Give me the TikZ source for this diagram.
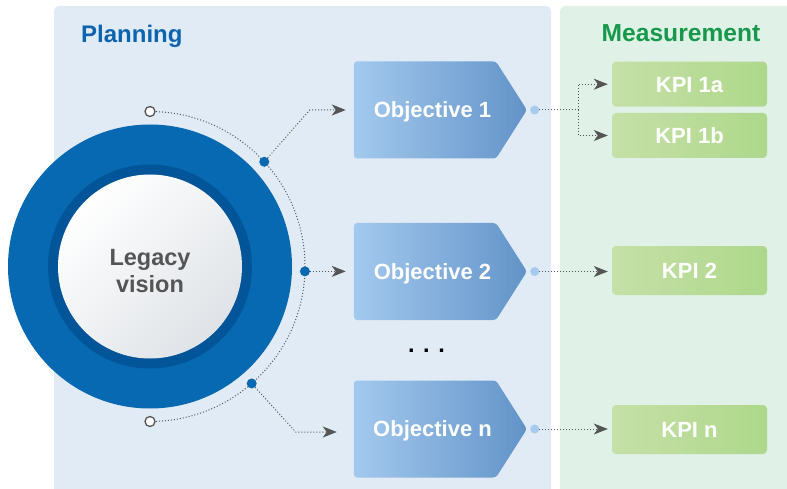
\documentclass[tikz,border=0pt]{standalone}
\usepackage{fontspec}
\setmainfont{Liberation Sans}
\usetikzlibrary{arrows.meta,shapes.symbols,calc}
\definecolor{panelblue}{HTML}{E1EBF5}
\definecolor{panelgreen}{HTML}{E0F1E7}
\definecolor{titleblue}{HTML}{0B64AE}
\definecolor{titlegreen}{HTML}{16994A}
\definecolor{ringblue}{HTML}{0669B1}
\definecolor{ringdark}{HTML}{03559A}
\definecolor{innergray}{HTML}{DFE3E7}
\definecolor{textgray}{HTML}{555555}
\definecolor{arrowgray}{HTML}{555555}
\definecolor{objL}{HTML}{A3C9EE}
\definecolor{objR}{HTML}{6293C8}
\definecolor{kpiL}{HTML}{C6E0A7}
\definecolor{kpiR}{HTML}{ADD88B}
\definecolor{lightdotc}{HTML}{A5CBEE}
\newcommand\titlefont{\fontsize{24}{28}\selectfont\bfseries}
\newcommand\measfont{\fontsize{24.6}{28}\selectfont\bfseries}
\newcommand\visionfont{\fontsize{23.5}{26.5}\selectfont\bfseries}
\newcommand\boxfont{\fontsize{22}{26}\selectfont\bfseries}
\begin{document}
\begin{tikzpicture}[x=1pt,y=-1pt,
  dotline/.style={draw=arrowgray, line width=1pt, dash pattern=on 1pt off 2pt},
  conn/.style={dotline, -{Stealth[length=14pt,width=11pt,inset=4pt]}},
  opendot/.style={circle, draw=arrowgray, fill=white, line width=1.3pt, minimum size=10pt, inner sep=0pt},
  bluedot/.style={circle, fill=ringblue, minimum size=10pt, inner sep=0pt},
  lightdot/.style={circle, fill=lightdotc, minimum size=9pt, inner sep=0pt},
  objtext/.style={font=\boxfont, text=white, inner sep=0pt, text height=15.75pt, text depth=0pt, xshift=7.5pt},
  objective/.style={signal, signal to=east, signal pointer angle=115,
     minimum width=173pt, minimum height=97pt, inner sep=0pt,
     left color=objL, right color=objR, rounded corners=3pt,
     label={[objtext]center:#1}},
  kpi/.style={rectangle, rounded corners=4pt, minimum width=155pt, minimum height=#1,
     inner sep=0pt, left color=kpiL, right color=kpiR, text=white, font=\boxfont,
     text height=15.75pt, text depth=0pt},
  kpi/.default=45pt
]
\useasboundingbox (0,0) rectangle (787,489);
\fill[white] (0,0) rectangle (787,489);
% panels
\fill[panelblue] (54,489) [rounded corners=5pt] -- (54,6) -- (551,6) [sharp corners] -- (551,489) -- cycle;
\fill[panelgreen] (560,489) [rounded corners=5pt] -- (560,6) [sharp corners] -- (787,6) -- (787,489) -- cycle;
\node[font=\titlefont, text=titleblue, anchor=base west, inner sep=0pt] (planning) at (81,42.5) {Planning};
\node[font=\measfont, text=titlegreen, anchor=base west, inner sep=0pt] (measurement) at (601.5,41.5) {Measurement};
% circle
\coordinate (c) at (150,266.5);
\node[circle, fill=ringblue, minimum size=284pt, inner sep=0pt] (outer) at (c) {};
\node[circle, fill=ringdark, minimum size=204pt, inner sep=0pt] (darkring) at (c) {};
\node[circle, minimum size=184pt, inner sep=0pt, top color=white, bottom color=innergray, shading angle=45] (inner) at (c) {};
\node[font=\visionfont, text=textgray, align=center, inner sep=0pt] (vision) at (150,270.8) {Legacy\\vision};
% arc
\draw[dotline] ($(c)+(-90:155)$) arc[start angle=-90, end angle=90, radius=155];
\node[opendot] (ot) at ($(c)+(-90:155)$) {};
\node[opendot] (ob) at ($(c)+(90:155)$) {};
\node[bluedot] (d1) at ($(c)+(-42.5:155)$) {};
\node[bluedot] (d2) at ($(c)+(1.8:155)$) {};
\node[bluedot] (d3) at ($(c)+(49:155)$) {};
% objectives
\node[objective={Objective 1}] (obj1) at (425,110) {};
\node[objective={Objective 2}] (obj2) at (425,271.5) {};
\node[objective={Objective n}] (objn) at (425,429) {};
\node[font=\fontsize{23.5}{26}\selectfont\bfseries, text=black, anchor=base, inner sep=0pt] (dots) at (426.5,352) {. . .};
% connectors from circle
\draw[conn, shorten >=8pt] (d1) -- ($(obj1.west)+(-44,0)$) -- (obj1.west);
\draw[conn, shorten >=8pt] (d2) -- (d2 -| obj2.west);
\coordinate (ntip) at ($(objn.west)+(-17,3)$);
\draw[conn] (d3) -- ($(objn.west)+(-58,3)$) -- (ntip);
% tip dots
\node[lightdot] (t1) at ($(obj1.east)+(7.5,0)$) {};
\node[lightdot] (t2) at ($(obj2.east)+(7.5,0)$) {};
\node[lightdot] (tn) at ($(objn.east)+(7.5,0)$) {};
% KPIs
\node[kpi] (kpi1a) at (689.5,84.2) {KPI 1a};
\node[kpi] (kpi1b) at (689.5,135.5) {KPI 1b};
\node[kpi=49pt] (kpi2) at (689.5,270.5) {KPI 2};
\node[kpi=49pt] (kpin) at (689.5,429.5) {KPI n};
\draw[dotline] (t1) -- ++(43.5,0) coordinate (br1);
\draw[conn, shorten >=4pt] (br1) |- (kpi1a.west);
\draw[conn, shorten >=4pt] (br1) |- (kpi1b.west);
\draw[conn, shorten >=4pt] (t2) -- (t2 -| kpi2.west);
\draw[conn, shorten >=4pt] (tn) -- (tn -| kpin.west);
\end{tikzpicture}
\end{document}
